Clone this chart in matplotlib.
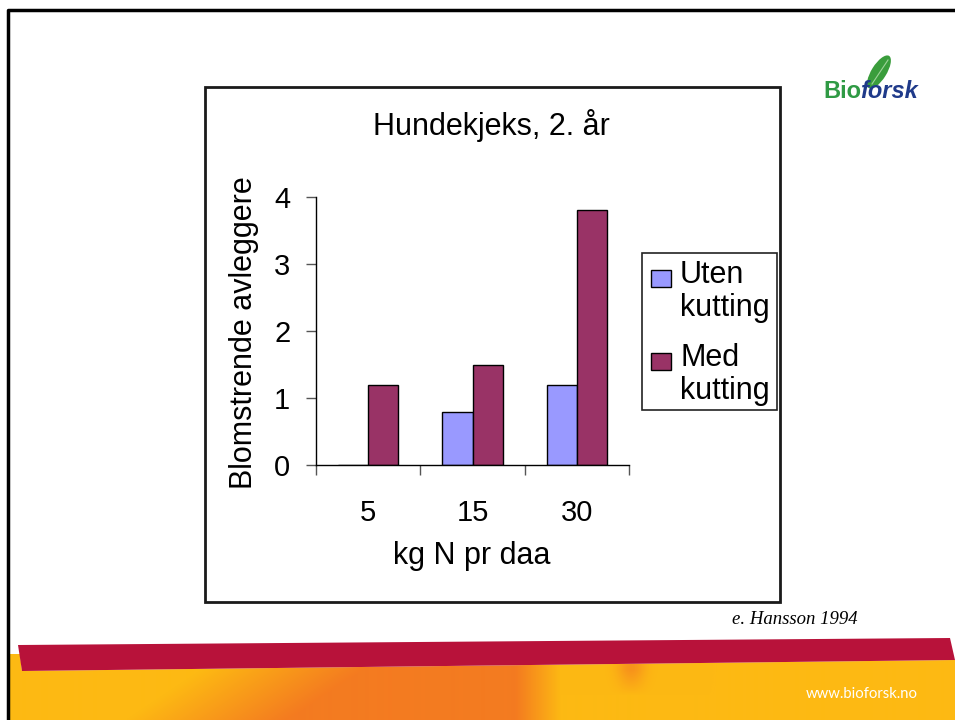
import numpy as np
import matplotlib.pyplot as plt
from matplotlib.patches import Rectangle, Polygon, Ellipse
from matplotlib.lines import Line2D

W, H = 955, 720

# data
doses = ["5", "15", "30"]
series = ["Uten\nkutting", "Med\nkutting"]
uten = [0.0, 0.8, 1.2]
med = [1.2, 1.5, 3.8]
yticks = [0, 1, 2, 3, 4]

title = "Hundekjeks, 2. år"
xlabel = "kg N pr daa"
ylabel = "Blomstrende avleggere"
source = "e. Hansson 1994"
web = "www.bioforsk.no"

BLUE = "#9999ff"
PURPLE = "#993366"
RED = "#b8123a"
YELLOW = np.array([253, 185, 19]) / 255
ORANGE = np.array([244, 123, 32]) / 255


def box(x0, y0, x1, y1):
    # pixel box (top-left origin) -> figure fraction rect
    return [x0 / W, 1 - y1 / H, (x1 - x0) / W, (y1 - y0) / H]


plt.rcParams["font.family"] = ["Liberation Sans", "DejaVu Sans"]
fig = plt.figure(figsize=(W / 100, H / 100), dpi=100)

# background layer in pixel coordinates
bg = fig.add_axes([0, 0, 1, 1], zorder=0)
bg.set_xlim(0, W)
bg.set_ylim(H, 0)
bg.axis("off")

# footer: yellow/orange area with red band
yellow_poly = Polygon([(9, 654), (20, 654), (22, 671), (955, 660), (955, 720), (9, 720)],
                      closed=True, fc="none", ec="none")
bg.add_patch(yellow_poly)
X, Y = np.meshgrid(np.arange(W), np.arange(630, H))
rise = np.clip((X + (Y - 690) * 1.5 - 170) / 160, 0, 1)
fall = np.clip((560 - X) / 45, 0, 1)
bump = np.exp(-((X - 630) / 14) ** 2) * np.clip((695 - Y) / 25, 0, 1) * 0.6
w = np.clip(rise * fall + bump, 0, 1)[..., None]
grad = YELLOW * (1 - w) + ORANGE * w
im = bg.imshow(grad, extent=[0, W, H, 630], origin="upper", aspect="auto", zorder=1)
im.set_clip_path(yellow_poly)
bg.add_patch(Polygon([(18, 645), (950, 638), (955, 660), (22, 671)], closed=True,
                     fc=RED, ec="none", zorder=2))
bg.text(918, 694, web, color="white", ha="right", va="center", family="Lato",
        fontsize=10.7, zorder=3)

# slide border
bg.add_line(Line2D([8, 8, W], [H, 10, 10], color="black", lw=2.5, zorder=3))

# chart frame
bg.add_patch(Rectangle((205, 87), 575, 515, fill=False, ec="#1a1a1a", lw=2, zorder=3))

bg.text(491, 125, title, ha="center", va="center", fontsize=22)
bg.text(244, 333, ylabel, rotation=90, ha="center", va="center", fontsize=22)
bg.text(472, 556, xlabel, ha="center", va="center", fontsize=22)

# legend
bg.add_patch(Rectangle((642, 253), 135, 157, fill=False, ec="#222222", lw=1.2))
for i, (lab, col) in enumerate(zip(series, [BLUE, PURPLE])):
    top = 260 + i * 83
    bg.add_patch(Rectangle((651, top + 10), 20, 17, fc=col, ec="black", lw=1))
    bg.text(680, top, lab, ha="left", va="top", fontsize=22, linespacing=1.15)

bg.text(858, 620, source, ha="right", va="center", family="Liberation Serif",
        style="italic", fontsize=13.5)

# logo
bg.add_patch(Ellipse((879, 72), 38, 15, angle=-58, fc="#3a9d3c", ec="none"))
bg.add_line(Line2D([872, 888], [84, 60], color="#9fd39a", lw=0.8))
bg.text(823, 98, "Bio", color="#2f9a44", fontweight="bold", fontsize=17, va="baseline")
bg.text(860, 98, "forsk", color="#1f3a8a", fontweight="bold", style="italic",
        fontsize=17, va="baseline")

# bar chart
ax = fig.add_axes(box(316, 196.7, 629, 465.3), zorder=2)
ax.patch.set_alpha(0)
x = np.arange(len(doses))
bw = 0.29
ax.bar(x - bw, uten, bw, align="edge", color=BLUE, ec="black", lw=1)
ax.bar(x, med, bw, align="edge", color=PURPLE, ec="black", lw=1)
ax.set_xlim(-0.5, len(doses) - 0.5)
ax.set_ylim(0, 4)
for s in ["top", "right"]:
    ax.spines[s].set_visible(False)
for s in ["left", "bottom"]:
    ax.spines[s].set_color("black")
    ax.spines[s].set_linewidth(1)
ax.set_xticks(x, doses)
ax.set_xticks(np.arange(-0.5, len(doses), 1), minor=True)
ax.tick_params(axis="x", which="major", length=0, pad=24, labelsize=21)
ax.tick_params(axis="x", which="minor", length=7.5, width=1, color="#555555")
ax.set_yticks(yticks)
ax.tick_params(axis="y", length=7.5, width=1, pad=11, labelsize=21, color="#555555")

fig.savefig("out.png", dpi=100)
